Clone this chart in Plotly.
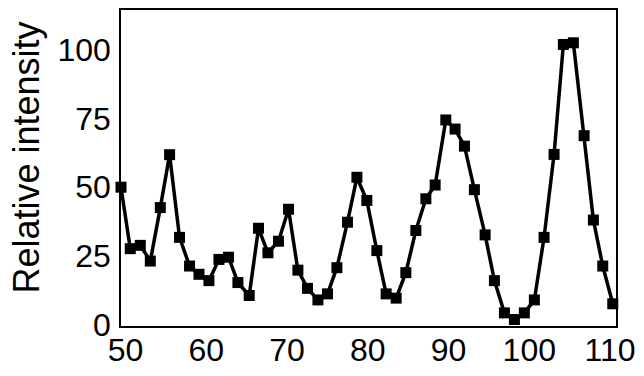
import plotly.graph_objects as go

position = [49.43, 50.58, 51.82, 53.06, 54.30, 55.45, 56.68, 57.92, 59.09, 60.32,
            61.56, 62.75, 63.91, 65.31, 66.46, 67.63, 68.94, 70.18, 71.34, 72.53,
            73.82, 75.01, 76.17, 77.48, 78.65, 79.88, 81.12, 82.27, 83.51, 84.71,
            85.95, 87.19, 88.34, 89.66, 90.81, 91.97, 93.20, 94.53, 95.68, 96.92,
            98.16, 99.39, 100.63, 101.83, 103.07, 104.22, 105.46, 106.79, 107.94, 109.10,
            110.34]
intensity = [50.0, 27.7, 28.9, 23.2, 42.6, 61.8, 31.8, 21.4, 18.4, 16.1,
             23.8, 24.6, 15.4, 10.7, 35.1, 26.2, 30.4, 42.0, 19.9, 13.3,
             9.1, 11.3, 20.8, 37.3, 53.6, 45.2, 27.0, 11.3, 9.75, 19.0,
             34.3, 45.8, 50.8, 74.4, 71.1, 64.9, 49.1, 32.7, 16.1, 4.4,
             2.0, 4.4, 9.1, 31.8, 61.9, 101.8, 102.4, 68.7, 38.1, 21.4,
             7.7]
x_ticks = [50, 60, 70, 80, 90, 100, 110]
y_ticks = [0, 25, 50, 75, 100]
y_title = "Relative intensity"

fig = go.Figure()
fig.add_trace(go.Scatter(
    x=position, y=intensity, mode="lines+markers",
    line=dict(color="black", width=3.5),
    marker=dict(symbol="square", size=11, color="black"),
    cliponaxis=False, showlegend=False,
))

family = "Liberation Sans, Arial, Helvetica, sans-serif"
fig.update_layout(
    width=644, height=376,
    margin=dict(l=121, r=28, t=8, b=47),
    paper_bgcolor="white", plot_bgcolor="white",
    font=dict(family=family, size=32, color="black"),
    xaxis=dict(range=[49.43, 110.74], tickvals=x_ticks, showgrid=False, zeroline=False,
               showline=True, linecolor="black", linewidth=1.5, mirror=True,
               ticks="", ticklabelstandoff=-5),
    yaxis=dict(range=[-0.36, 114.3], tickvals=y_ticks, showgrid=False, zeroline=False,
               showline=True, linecolor="black", linewidth=1.5, mirror=True,
               ticks="", ticklabelstandoff=2),
    annotations=[dict(text=y_title, xref="paper", yref="paper", x=-0.19, y=0.533,
                      xanchor="center", yanchor="middle", textangle=-90, showarrow=False,
                      font=dict(family=family, size=36, color="black"))],
)
fig.write_html("out.html")
